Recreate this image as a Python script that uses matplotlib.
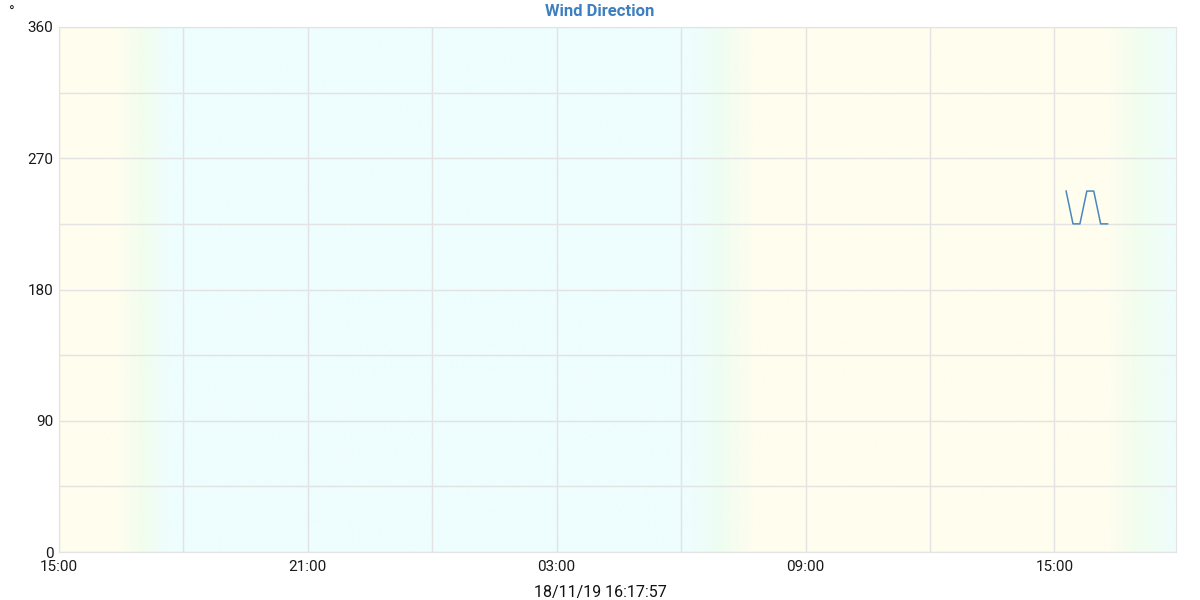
import matplotlib
matplotlib.use("Agg")
import matplotlib.pyplot as plt
import matplotlib.dates as mdates
from matplotlib.colors import LinearSegmentedColormap
import numpy as np
from datetime import datetime, timedelta

plt.rcParams['font.family'] = ['Roboto', 'DejaVu Sans']

# ---- data ----
times = ["2019-11-18 15:17", "2019-11-18 15:27", "2019-11-18 15:37", "2019-11-18 15:47",
         "2019-11-18 15:57", "2019-11-18 16:07", "2019-11-18 16:17"]
direction = [247.5, 225, 225, 247.5, 247.5, 225, 225]

x_start = "2019-11-17 15:00"
x_end = "2019-11-18 17:56"
y_ticks = [0, 90, 180, 270, 360]
title = "Wind Direction"
footer = "18/11/19 16:17:57"

# day/night shading: (hours after start, colour)
shade_hours = [0.0, 1.35, 2.0, 2.6, 15.3, 16.0, 16.8, 25.3, 26.1, 26.94]
shade_cols = ["#fffdee", "#fffdee", "#f1fdef", "#eefdfd", "#eefdfd", "#effdf1",
              "#fffdee", "#fffdee", "#f1fdef", "#eefdfb"]

t = [datetime.strptime(s, "%Y-%m-%d %H:%M") for s in times]
t0 = datetime.strptime(x_start, "%Y-%m-%d %H:%M")
t1 = datetime.strptime(x_end, "%Y-%m-%d %H:%M")

fig = plt.figure(figsize=(12, 6), dpi=100)
ax = fig.add_axes([59/1200, 48/600, (1176-59)/1200, (552-27)/600])

# background gradient
total = shade_hours[-1]
cmap = LinearSegmentedColormap.from_list(
    "daynight", [(h/total, c) for h, c in zip(shade_hours, shade_cols)])
grad = np.linspace(0, 1, 1000).reshape(1, -1)
x0n = mdates.date2num(t0)
x1n = mdates.date2num(t0 + timedelta(hours=total))
ax.imshow(grad, cmap=cmap, aspect='auto', extent=[x0n, x1n, 0, 360],
          zorder=0, interpolation='bilinear')

ax.plot(t, direction, color="#4a86c0", lw=1.1, zorder=3)

ax.set_xlim(t0, t1)
ax.set_ylim(0, 360)
ax.set_yticks(y_ticks)
ax.set_yticks(np.arange(0, 361, 45), minor=True)
ax.xaxis.set_major_locator(mdates.HourLocator(byhour=[3, 9, 15, 21]))
ax.xaxis.set_minor_locator(mdates.HourLocator(byhour=range(0, 24, 3)))
ax.xaxis.set_major_formatter(mdates.DateFormatter("%H:%M"))

ax.grid(True, which='both', color="#e3e3e3", lw=1, zorder=1)
for gl in ax.get_xgridlines() + ax.get_ygridlines():
    gl.set_zorder(1)
ax.tick_params(which='both', length=0, labelsize=11, colors="#1a1a1a")
ax.tick_params(axis='x', pad=6)
ax.tick_params(axis='y', pad=4)
for s in ax.spines.values():
    s.set_color("#e3e3e3")

fig.text(600/1200, 1 - 12/600, title, ha='center', va='center',
         fontsize=12, fontweight='bold', color="#3d7fbf")
fig.text(12/1200, 1 - 6/600, "°", ha='center', va='top', fontsize=11, color="#1a1a1a")
fig.text(600/1200, 1 - 592/600, footer, ha='center', va='center',
         fontsize=11.5, color="#111111")

fig.savefig("out.png", dpi=100)
